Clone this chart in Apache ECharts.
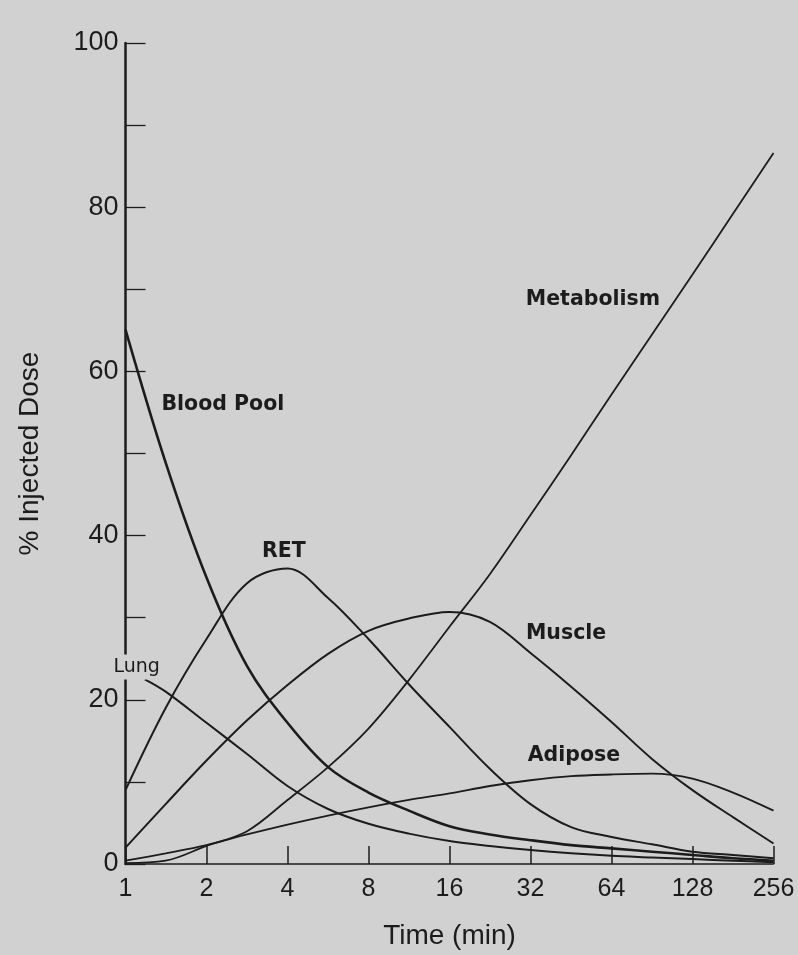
<!DOCTYPE html>
<html>
<head>
<meta charset="utf-8">
<script src="https://cdn.jsdelivr.net/npm/echarts@6/dist/echarts.min.js"></script>
<style>
  html, body { margin: 0; padding: 0; background: #d1d1d1; }
  #chart { width: 798px; height: 955px; }
</style>
</head>
<body>
<div id="chart"></div>
<script>
// Sampling times (min), half-octave steps from 1 to 256
const times = [1, 1.41, 2, 2.83, 4, 5.66, 8, 11.3, 16, 22.6, 32, 45.3, 64, 90.5, 128, 181, 256];
// Lung is only traced from just after the first minute
const lungTimes = [1.18, 1.41, 2, 2.83, 4, 5.66, 8, 11.3, 16, 22.6, 32, 45.3, 64, 90.5, 128, 181, 256];

// % injected dose per compartment
const bloodPool  = [65.1, 48.9, 34.9, 24.1, 17.2, 11.8, 8.7, 6.5, 4.6, 3.6, 2.9, 2.3, 1.9, 1.5, 1.1, 0.7, 0.4];
const lung       = [22.5, 21.0, 17.2, 13.4, 9.5, 6.7, 4.9, 3.7, 2.8, 2.2, 1.7, 1.3, 1.0, 0.8, 0.6, 0.4, 0.2];
const ret        = [9.0, 19.0, 27.4, 34.2, 36.0, 32.4, 27.4, 21.9, 16.7, 11.6, 7.3, 4.5, 3.3, 2.4, 1.5, 1.1, 0.7];
const muscle     = [2.0, 7.3, 12.6, 17.5, 21.8, 25.6, 28.4, 29.9, 30.7, 29.5, 25.7, 21.6, 17.3, 12.8, 9.0, 5.7, 2.5];
const metabolism = [0.1, 0.4, 2.2, 4.0, 7.8, 11.8, 16.5, 22.4, 28.9, 35.3, 42.5, 49.8, 57.2, 64.5, 71.8, 79.2, 86.6];
const adipose    = [0.4, 1.3, 2.3, 3.6, 4.8, 5.9, 6.9, 7.8, 8.6, 9.5, 10.2, 10.7, 10.9, 11.0, 10.4, 8.7, 6.5];

// Axis ticks
const xTicks = [1, 2, 4, 8, 16, 32, 64, 128, 256];
const yMin = 0, yMax = 100, yStep = 10, yLabelStep = 20;

const BG = '#d1d1d1';
const INK = '#1c1c1c';

// Where each compartment name sits, in data coordinates [time, dose]
const labelSpots = {
  'Blood Pool': [2.30, 55.9],
  'Lung':       [1.10, 24.0],
  'RET':        [3.88, 38.1],
  'Muscle':     [43.4, 28.1],
  'Adipose':    [46.4, 13.2],
  'Metabolism': [54.6, 68.7]
};

function curve(name, t, values, width, labelExtra) {
  return {
    name: name,
    type: 'line',
    data: t.map((x, i) => [x, values[i]]),
    showSymbol: false,
    smooth: 0.35,
    lineStyle: { color: INK, width: width },
    itemStyle: { color: INK },
    emphasis: { disabled: true },
    markPoint: {
      symbol: 'circle',
      symbolSize: 1,
      itemStyle: { color: 'transparent' },
      silent: true,
      data: [{ coord: labelSpots[name] }],
      label: Object.assign({
        show: true,
        position: 'inside',
        formatter: name,
        color: INK,
        fontFamily: 'DejaVu Sans',
        fontWeight: 'bold',
        fontSize: 20.5
      }, labelExtra || {})
    }
  };
}

const chart = echarts.init(document.getElementById('chart'), null, { renderer: 'canvas' });

chart.setOption({
  backgroundColor: BG,
  animation: false,
  grid: { left: 125.5, right: 24.5, top: 43, bottom: 86 },
  xAxis: {
    type: 'log',
    logBase: 2,
    min: xTicks[0],
    max: xTicks[xTicks.length - 1],
    interval: 1,
    name: 'Time (min)',
    nameLocation: 'middle',
    nameGap: 58,
    nameTextStyle: { fontFamily: 'Liberation Sans', fontSize: 28, color: INK },
    axisLine: { show: true, onZero: false, lineStyle: { color: INK, width: 1.5 } },
    axisTick: { show: true, inside: true, length: 18, lineStyle: { color: INK, width: 1.5 } },
    axisLabel: {
      margin: 13,
      fontFamily: 'Liberation Sans',
      fontSize: 25,
      color: INK,
      formatter: v => String(Math.round(v))
    },
    splitLine: { show: false },
    minorTick: { show: false }
  },
  yAxis: {
    type: 'value',
    min: yMin,
    max: yMax,
    interval: yStep,
    name: '% Injected Dose',
    nameLocation: 'middle',
    nameRotate: 90,
    nameGap: 81,
    nameTextStyle: { fontFamily: 'Liberation Sans', fontSize: 28, color: INK },
    axisLine: { show: true, lineStyle: { color: INK, width: 2.5 } },
    axisTick: { show: true, inside: true, length: 20, lineStyle: { color: INK, width: 1.3 } },
    axisLabel: {
      margin: 7,
      fontFamily: 'Liberation Sans',
      fontSize: 27,
      color: INK,
      formatter: v => (v % yLabelStep === 0 ? String(v) : '')
    },
    splitLine: { show: false }
  },
  series: [
    curve('Blood Pool', times, bloodPool, 2.6),
    curve('Lung', lungTimes, lung, 2, { backgroundColor: BG, padding: [3, 2, 3, 2], fontWeight: 'normal', fontSize: 19 }),
    curve('RET', times, ret, 2),
    curve('Muscle', times, muscle, 2),
    curve('Metabolism', times, metabolism, 1.8),
    curve('Adipose', times, adipose, 1.8)
  ]
});
</script>
</body>
</html>
